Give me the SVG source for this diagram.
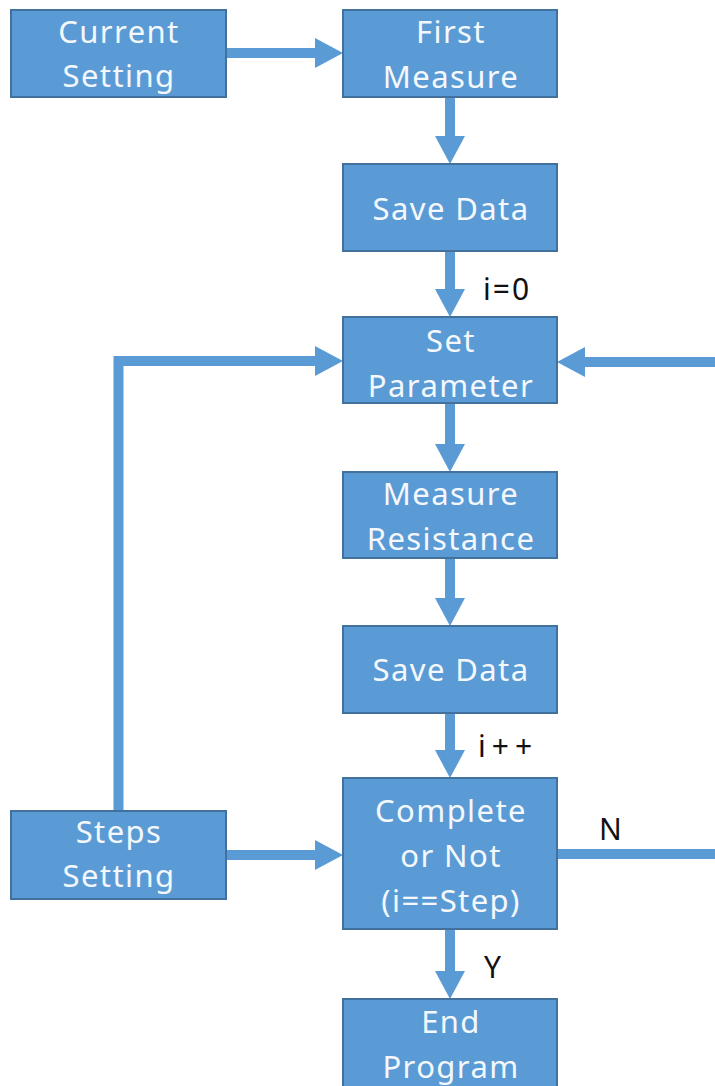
<svg xmlns="http://www.w3.org/2000/svg" width="715" height="1086" viewBox="0 0 715 1086">
<style>
.box{fill:#5b9bd5;stroke:#41719c;stroke-width:2}
.t{font-family:"Noto Sans","Liberation Sans",sans-serif;font-size:31px;letter-spacing:1.4px;fill:#f4f8fc;text-anchor:middle}
.lbl{font-family:"Noto Sans","Liberation Sans",sans-serif;font-size:30px;letter-spacing:2px;fill:#111}
.c{stroke:#5b9bd5;stroke-width:10;fill:none}
.h{fill:#5b9bd5}
</style>
<rect width="715" height="1086" fill="#fff"/>
<g id="connectors">
  <path class="c" d="M226 53 H318"/>
  <polygon class="h" points="315,38 343,53 315,68"/>
  <path class="c" d="M450 97 V139"/>
  <polygon class="h" points="435,136 450,164 465,136"/>
  <path class="c" d="M450 251 V292"/>
  <polygon class="h" points="435,289 450,317 465,289"/>
  <path class="c" d="M450 403 V447"/>
  <polygon class="h" points="435,444 450,472 465,444"/>
  <path class="c" d="M450 558 V601"/>
  <polygon class="h" points="435,598 450,626 465,598"/>
  <path class="c" d="M450 713 V753"/>
  <polygon class="h" points="435,750 450,778 465,750"/>
  <path class="c" d="M450 929 V974"/>
  <polygon class="h" points="435,971 450,999 465,971"/>
  <path class="c" d="M118.5 811 V361 H318"/>
  <polygon class="h" points="315,346 343,361 315,376"/>
  <path class="c" d="M715 362 H582"/>
  <polygon class="h" points="585,347 557,362 585,377"/>
  <path class="c" d="M557 854 H715"/>
  <path class="c" d="M226 855 H318"/>
  <polygon class="h" points="315,840 343,855 315,870"/>
  <text class="lbl" x="483" y="300">i=0</text>
  <text class="lbl" x="478" y="757" style="letter-spacing:6px">i++</text>
  <text class="lbl" x="599" y="840">N</text>
  <text class="lbl" x="484" y="978">Y</text>
</g>
<g id="current-setting"><rect class="box" x="11" y="10" width="215" height="87"/><text class="t" x="119" y="43">Current</text><text class="t" x="119" y="87">Setting</text></g>
<g id="first-measure"><rect class="box" x="343" y="10" width="214" height="87"/><text class="t" x="451" y="43">First</text><text class="t" x="451" y="88">Measure</text></g>
<g id="save-data-1"><rect class="box" x="343" y="164" width="214" height="87"/><text class="t" x="451" y="220">Save Data</text></g>
<g id="set-parameter"><rect class="box" x="343" y="317" width="214" height="86"/><text class="t" x="451" y="352">Set</text><text class="t" x="451" y="397">Parameter</text></g>
<g id="measure-resistance"><rect class="box" x="343" y="472" width="214" height="86"/><text class="t" x="451" y="505">Measure</text><text class="t" x="451" y="550">Resistance</text></g>
<g id="save-data-2"><rect class="box" x="343" y="626" width="214" height="87"/><text class="t" x="451" y="681">Save Data</text></g>
<g id="complete"><rect class="box" x="343" y="778" width="214" height="151"/><text class="t" x="451" y="822">Complete</text><text class="t" x="451" y="867">or Not</text><text class="t" x="451" y="912">(i==Step)</text></g>
<g id="steps-setting"><rect class="box" x="11" y="811" width="215" height="88"/><text class="t" x="119" y="843">Steps</text><text class="t" x="119" y="887">Setting</text></g>
<g id="end-program"><rect class="box" x="343" y="999" width="214" height="100"/><text class="t" x="451" y="1033">End</text><text class="t" x="451" y="1078">Program</text></g>
</svg>
